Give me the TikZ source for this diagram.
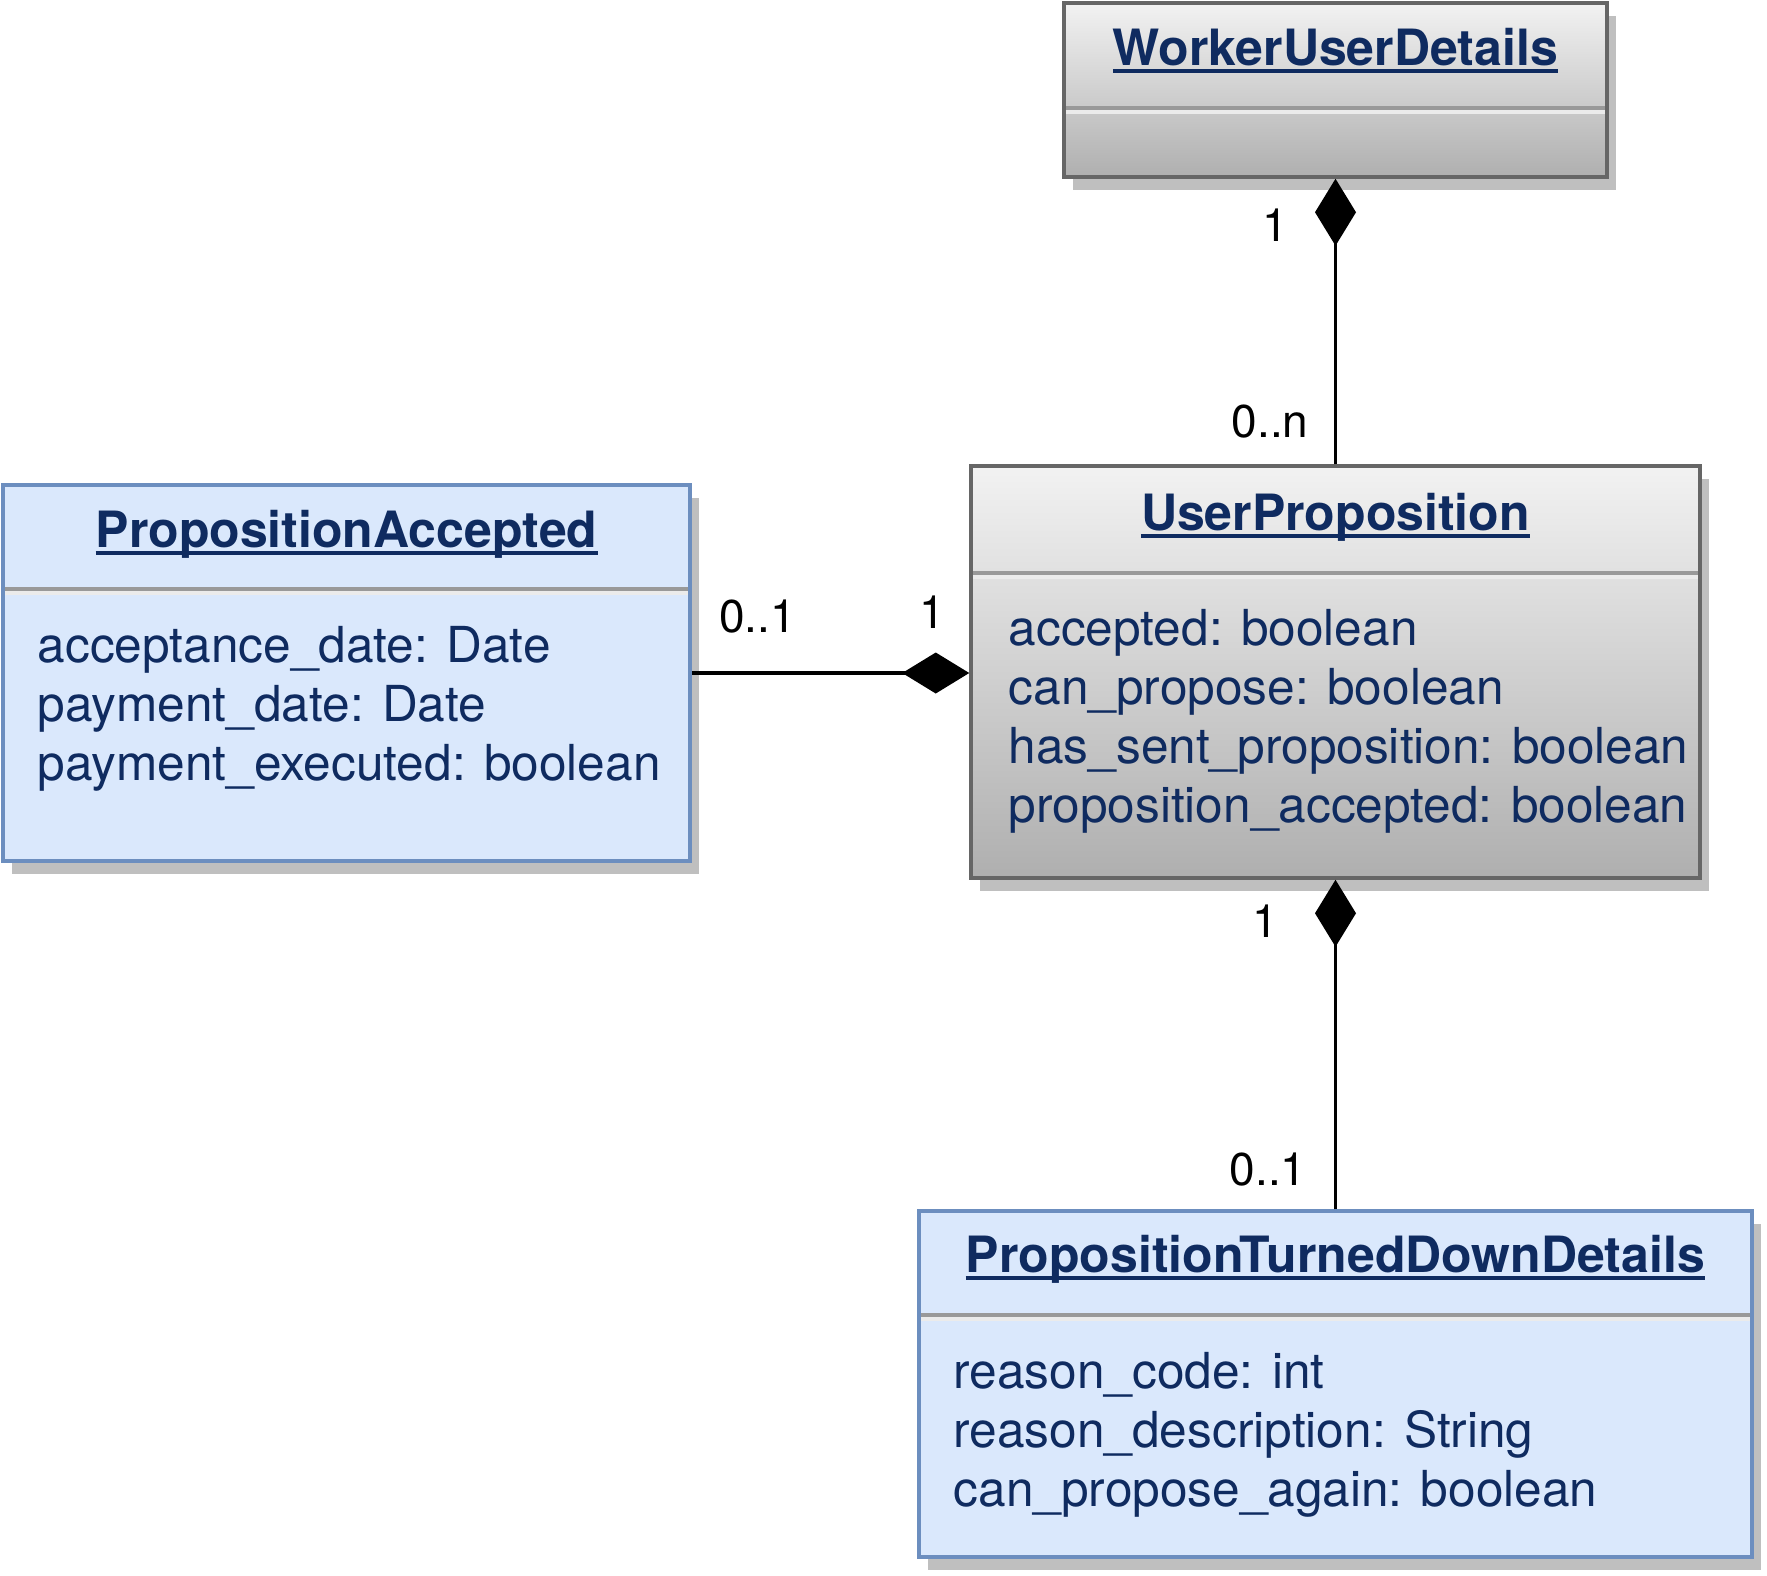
\documentclass[tikz,border=0pt]{standalone}
\usepackage{fontspec}
\setmainfont{TeX Gyre Heros}
\usetikzlibrary{arrows.meta,shadows}
\definecolor{navy}{RGB}{15,43,96}
\definecolor{bluefill}{HTML}{DAE8FC}
\definecolor{blueline}{HTML}{6C8EBF}
\definecolor{grayline}{HTML}{666666}
\definecolor{graytop}{HTML}{F2F2F2}
\definecolor{graybot}{HTML}{AFAFAF}
\definecolor{shadowgray}{HTML}{BFBFBF}
\definecolor{sepdark}{HTML}{999999}
\definecolor{seplight}{HTML}{EBEBEB}
\begin{document}
\begin{tikzpicture}[x=1pt,y=-1pt,
  shadowed/.style={drop shadow={shadow xshift=9pt,shadow yshift=-13pt,fill=shadowgray,opacity=1}},
  bluebox/.style={draw=blueline,fill=bluefill,line width=3.5pt,shadowed,inner sep=0pt},
  graybox/.style={draw=grayline,top color=graytop,bottom color=graybot,line width=3.5pt,shadowed,inner sep=0pt},
  title/.style={font=\bfseries\fontsize{50}{59}\selectfont,text=navy,inner sep=0pt,anchor=base},
  attr/.style={font=\fontsize{49.6}{59}\selectfont,text=navy,inner sep=0pt,anchor=base west},
  mult/.style={font=\fontsize{46}{52}\selectfont,text=black,inner sep=0pt,anchor=base},
  uline/.style={navy,line width=4pt},
  sepd/.style={sepdark,line width=4pt},
  sepl/.style={seplight,line width=4pt},
  comp/.style={black,line width=3.5pt,-{Diamond[length=67pt,width=41pt,line width=0pt]}}
]
\useasboundingbox (0,0) rectangle (1767,1575);

% boxes
\node[graybox,minimum width=543pt,minimum height=174pt] (wud) at (1335.5,90) {};
\node[bluebox,minimum width=687pt,minimum height=376pt] (pa) at (346.5,673) {};
\node[graybox,minimum width=729pt,minimum height=412pt] (up) at (1335.5,672) {};
\node[bluebox,minimum width=833pt,minimum height=346pt] (ptdd) at (1335.5,1384) {};

% separators
\draw[sepd] (1065.75,108) -- (1605.25,108);
\draw[sepl] (1065.75,112) -- (1605.25,112);
\draw[sepd] (4.75,589) -- (688.25,589);
\draw[sepl] (4.75,593) -- (688.25,593);
\draw[sepd] (972.75,573) -- (1698.25,573);
\draw[sepl] (972.75,577) -- (1698.25,577);
\draw[sepd] (920.75,1315) -- (1750.25,1315);
\draw[sepl] (920.75,1319) -- (1750.25,1319);

% titles
\node[title] (t1) at (1335.5,65) {WorkerUserDetails};
\node[title] (t2) at (346.5,547) {PropositionAccepted};
\node[title] (t3) at (1335.5,530) {UserProposition};
\node[title] (t4) at (1335.5,1272) {PropositionTurnedDownDetails};
\foreach \t in {t1,t2,t3,t4}{
  \draw[uline] ([yshift=-5.5pt]\t.base west) -- ([yshift=-5.5pt]\t.base east);
}

% attributes
\node[attr] (pa1) at (37.5,662) {acceptance\_date: Date};
\node[attr] (pa2) at (37.5,721) {payment\_date: Date};
\node[attr] (pa3) at (37.5,780) {payment\_executed: boolean};

\node[attr] (up1) at (1008.5,645) {accepted: boolean};
\node[attr] (up2) at (1008.5,704) {can\_propose: boolean};
\node[attr] (up3) at (1008.5,763) {has\_sent\_proposition: boolean};
\node[attr] (up4) at (1008.5,822) {proposition\_accepted: boolean};

\node[attr] (pt1) at (953.5,1388) {reason\_code: int};
\node[attr] (pt2) at (953.5,1447) {reason\_description: String};
\node[attr] (pt3) at (953.5,1506) {can\_propose\_again: boolean};

% connectors
\draw[comp] (up.north) -- (wud.south);
\draw[comp] (pa.east) -- (pa.east -| up.west);
\draw[comp] (ptdd.north) -- (up.south);

% multiplicities
\node[mult] (m1) at (1275,241) {1};
\node[mult] (m2) at (1270,437) {0..n};
\node[mult] (m3) at (757.5,632) {0..1};
\node[mult] (m4) at (932.5,628) {1};
\node[mult] (m5) at (1265.5,937) {1};
\node[mult] (m6) at (1268,1185) {0..1};
\end{tikzpicture}
\end{document}
